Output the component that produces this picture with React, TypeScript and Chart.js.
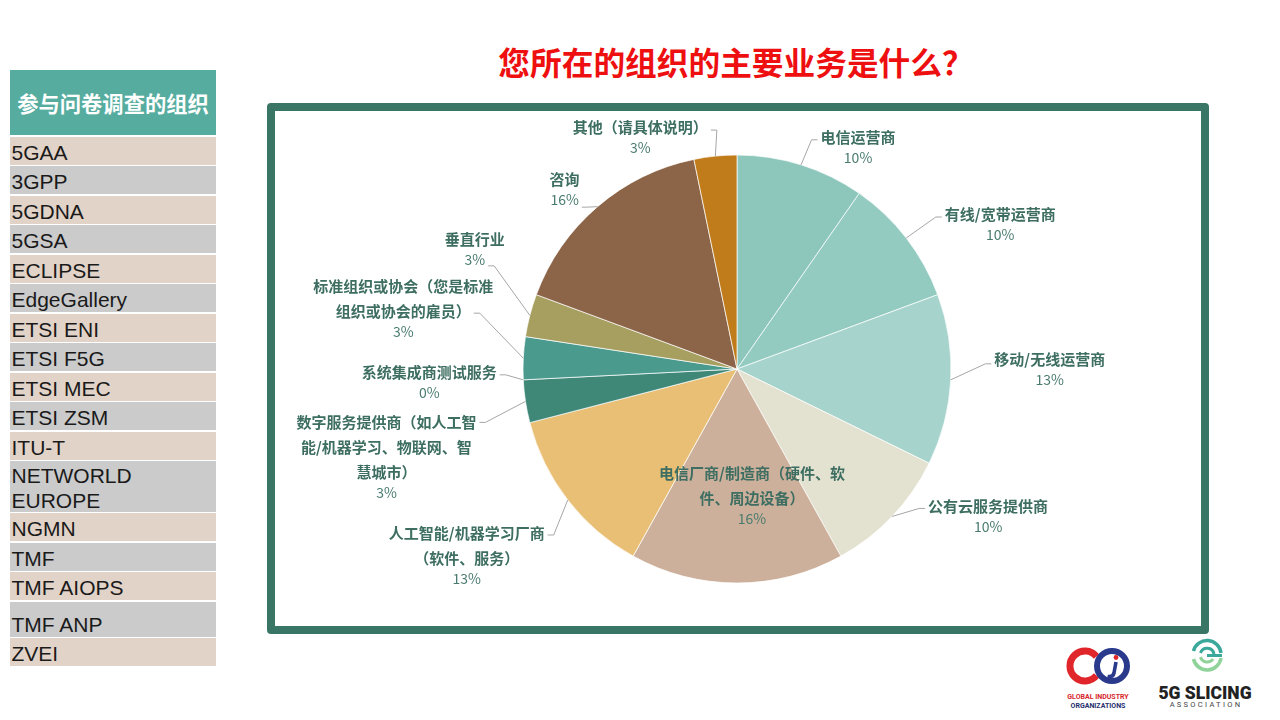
import React, { useEffect, useRef } from 'react';
import { Chart, registerables } from 'chart.js';

Chart.register(...registerables);

// ---------- data ----------
const chartTitle = '您所在的组织的主要业务是什么？';
const tableHeader = '参与问卷调查的组织';

const categories = [
  '电信运营商',
  '有线/宽带运营商',
  '移动/无线运营商',
  '公有云服务提供商',
  '电信厂商/制造商（硬件、软件、周边设备）',
  '人工智能/机器学习厂商（软件、服务）',
  '数字服务提供商（如人工智能/机器学习、物联网、智慧城市）',
  '系统集成商测试服务',
  '标准组织或协会（您是标准组织或协会的雇员）',
  '垂直行业',
  '咨询',
  '其他（请具体说明）',
];

const labelLines = [
  ['电信运营商'],
  ['有线/宽带运营商'],
  ['移动/无线运营商'],
  ['公有云服务提供商'],
  ['电信厂商/制造商（硬件、软', '件、周边设备）'],
  ['人工智能/机器学习厂商', '（软件、服务）'],
  ['数字服务提供商（如人工智', '能/机器学习、物联网、智', '慧城市）'],
  ['系统集成商测试服务'],
  ['标准组织或协会（您是标准', '组织或协会的雇员）'],
  ['垂直行业'],
  ['咨询'],
  ['其他（请具体说明）'],
];

const responses = [3, 3, 4, 3, 5, 4, 1, 0, 1, 1, 5, 1];

const sliceColors = [
  '#8dc7bc',
  '#93cbc1',
  '#a6d3cc',
  '#e3e2d0',
  '#ccb09b',
  '#e9bf76',
  '#3f8878',
  '#4a9a8f',
  '#4a9a8e',
  '#a69f60',
  '#8c6548',
  '#c07b1a',
];

const organizations = [
  '5GAA', '3GPP', '5GDNA', '5GSA', 'ECLIPSE', 'EdgeGallery', 'ETSI ENI', 'ETSI F5G',
  'ETSI MEC', 'ETSI ZSM', 'ITU-T', 'NETWORLD\nEUROPE', 'NGMN', 'TMF', 'TMF AIOPS', 'TMF ANP', 'ZVEI',
];

// ---------- label layout (offsets from each slice's outer mid point) ----------
// line: index of the text line the leader attaches to (lines.length = percentage line)
const labelPlacement = [
  { dx: 57, dy: -28, side: 'left', line: 0, ay: 3 },
  { dx: 94, dy: -24, side: 'left', line: 0, ay: 3 },
  { dx: 99, dy: -21, side: 'left', line: 0, ay: 5 },
  { dx: 96, dy: -10, side: 'left', line: 0, ay: 2 },
  { dx: 15, dy: -110, side: 'none', line: 0, ay: 0 },
  { dx: -101, dy: 33, side: 'right', line: 0, ay: 2 },
  { dx: -139, dy: 21, side: 'right', line: 0, ay: 0 },
  { dx: -94, dy: -8, side: 'right', line: 0, ay: 3 },
  { dx: -120, dy: -72, side: 'right', line: 1, ay: 2 },
  { dx: -55, dy: -76, side: 'right', line: 1, ay: 6 },
  { dx: -33, dy: -27, side: 'right', line: 1, ay: 7 },
  { dx: -75, dy: -29, side: 'right', line: 0, ay: 3 },
];

const NAME_FONT = 'bold 15px "Noto Sans CJK SC", sans-serif';
const PCT_FONT = '14px "Noto Sans CJK SC", sans-serif';
const LINE_GAP = 25;
const PCT_GAP = 20.5;

const outLabels = {
  id: 'outLabels',
  afterDatasetsDraw(chart: any) {
    const ctx = chart.ctx as CanvasRenderingContext2D;
    const meta = chart.getDatasetMeta(0);
    const total = responses.reduce((a, b) => a + b, 0);
    meta.data.forEach((arc: any, i: number) => {
      const p = arc.getProps(['x', 'y', 'startAngle', 'endAngle', 'outerRadius'], true);
      const mid = (p.startAngle + p.endAngle) / 2;
      const ex = p.x + Math.cos(mid) * p.outerRadius;
      const ey = p.y + Math.sin(mid) * p.outerRadius;
      const lay = labelPlacement[i];
      const lines = labelLines[i];
      const cx = ex + lay.dx;
      const cy = ey + lay.dy;
      const pct = Math.round((responses[i] / total) * 100) + '%';
      const pctY = cy + (lines.length - 1) * LINE_GAP + PCT_GAP;

      ctx.save();
      ctx.textAlign = 'center';
      ctx.textBaseline = 'middle';
      ctx.fillStyle = '#3d6e61';
      ctx.font = NAME_FONT;
      lines.forEach((ln, k) => ctx.fillText(ln, cx, cy + k * LINE_GAP));
      ctx.font = PCT_FONT;
      ctx.fillStyle = '#4a7b6f';
      ctx.fillText(pct, cx, pctY);

      if (lay.side !== 'none') {
        let w: number;
        let ly: number;
        if (lay.line >= lines.length) {
          ctx.font = PCT_FONT;
          w = ctx.measureText(pct).width;
          ly = pctY;
        } else {
          ctx.font = NAME_FONT;
          w = ctx.measureText(lines[lay.line]).width;
          ly = cy + lay.line * LINE_GAP;
        }
        const ay = ly + lay.ay;
        const dir = lay.side === 'left' ? -1 : 1;
        const attachX = cx + dir * (w / 2 + 3);
        const elbowX = attachX + dir * 6;
        ctx.beginPath();
        ctx.strokeStyle = '#a6a6a6';
        ctx.lineWidth = 1;
        ctx.moveTo(ex, ey);
        ctx.lineTo(elbowX, ay);
        ctx.lineTo(attachX, ay);
        ctx.stroke();
      }
      ctx.restore();
    });
  },
};

function PieChart() {
  const ref = useRef<HTMLCanvasElement | null>(null);
  useEffect(() => {
    if (!ref.current) return;
    const chart = new Chart(ref.current, {
      type: 'pie',
      data: {
        labels: categories,
        datasets: [
          {
            data: responses,
            backgroundColor: sliceColors,
            borderColor: 'rgba(255,255,255,0.7)',
            borderWidth: 1,
            radius: 214,
          } as any,
        ],
      },
      options: {
        responsive: false,
        animation: false,
        layout: { padding: 0 },
        plugins: {
          legend: { display: false },
          tooltip: { enabled: false },
          title: { display: false },
        },
      },
      plugins: [outLabels],
    });
    return () => chart.destroy();
  }, []);
  return (
    <canvas
      ref={ref}
      width={942}
      height={532}
      style={{ position: 'absolute', left: 266, top: 103, width: 942, height: 532 }}
    />
  );
}

function Logos() {
  return (
    <svg
      width={230}
      height={84}
      style={{ position: 'absolute', left: 1050, top: 636 }}
      viewBox="0 0 230 84"
    >
      {/* Global Industry Organizations */}
      <path d="M46.5 20.4 A15 15 0 1 0 46.5 39.6" fill="none" stroke="#e0262b" strokeWidth={7} />
      <circle cx={62} cy={30} r={15} fill="none" stroke="#29398c" strokeWidth={6} />
      <circle cx={66} cy={21.5} r={2.4} fill="#e0262b" />
      <path d="M66 26 L64 37 Q63 41.5 57.5 40.5" fill="none" stroke="#29398c" strokeWidth={3.6} />
      <text x={48} y={62.5} textAnchor="middle" fontSize={7} fontWeight={700} fill="#d7262b" fontFamily="Roboto, sans-serif">
        GLOBAL INDUSTRY
      </text>
      <text x={48} y={71.5} textAnchor="middle" fontSize={7} fontWeight={700} fill="#1f2f6e" fontFamily="Roboto, sans-serif">
        ORGANIZATIONS
      </text>
      {/* 5G Slicing Association */}
      <path d="M143.5 15 A14 14 0 0 1 171 17" fill="none" stroke="#3aa89b" strokeWidth={3.5} />
      <path d="M143.5 23 A14 14 0 0 0 171 22" fill="none" stroke="#8fd39b" strokeWidth={3.5} />
      <path d="M150.5 17 A7 7 0 0 1 164 18" fill="none" stroke="#3aa89b" strokeWidth={3} />
      <path d="M150.5 21 A7 7 0 0 0 163 23" fill="none" stroke="#8fd39b" strokeWidth={3} />
      <line x1={157} y1={19.5} x2={172} y2={19.5} stroke="#3aa89b" strokeWidth={3} />
      <text x={155} y={62.5} textAnchor="middle" fontSize={17.5} fontWeight={900} fill="#222" fontFamily="Roboto, sans-serif">
        5G SLICING
      </text>
      <text x={156} y={71} textAnchor="middle" fontSize={7.5} letterSpacing={2.3} fill="#444" fontFamily="Roboto, sans-serif">
        ASSOCIATION
      </text>
    </svg>
  );
}

export default function App() {
  return (
    <div
      style={{
        position: 'absolute',
        left: 0,
        top: 0,
        width: 1280,
        height: 720,
        background: '#ffffff',
        overflow: 'hidden',
        fontFamily: '"Liberation Sans", Arial, sans-serif',
      }}
    >
      {/* Title */}
      <div
        style={{
          position: 'absolute',
          left: 436,
          width: 600,
          top: 45,
          textAlign: 'center',
          fontFamily: '"Noto Sans CJK SC", sans-serif',
          fontWeight: 700,
          fontSize: 31.7,
          lineHeight: '32px',
          color: '#ee1010',
          whiteSpace: 'nowrap',
        }}
      >
        {chartTitle}
      </div>

      {/* Left table */}
      <div
        style={{
          position: 'absolute',
          left: 10,
          top: 70,
          width: 206,
          display: 'flex',
          flexDirection: 'column',
          gap: 1.5,
        }}
      >
        <div
          style={{
            height: 65.2,
            background: '#56ad9f',
            color: '#ffffff',
            fontFamily: '"Noto Sans CJK SC", sans-serif',
            fontWeight: 700,
            fontSize: 21.3,
            display: 'flex',
            alignItems: 'center',
            justifyContent: 'center',
          }}
        >
          {tableHeader}
        </div>
        {organizations.map((org, i) => {
          const multi = org.includes('\n');
          const h = multi ? 50.5 : org === 'TMF ANP' ? 35 : 28;
          return (
            <div
              key={org}
              style={{
                height: h,
                background: i % 2 === 0 ? '#e2d3c8' : '#cbcbcb',
                color: '#1a1a1a',
                fontSize: 21,
                lineHeight: multi ? '25px' : 'normal',
                whiteSpace: 'pre-line',
                display: 'flex',
                alignItems: 'flex-end',
                paddingLeft: 1.5,
                boxSizing: 'border-box',
                overflow: 'hidden',
              }}
            >
              <span style={{ display: 'block', marginBottom: multi ? -1 : 0 }}>{org}</span>
            </div>
          );
        })}
      </div>

      {/* Frame */}
      <div
        style={{
          position: 'absolute',
          left: 267,
          top: 103,
          width: 942,
          height: 531,
          border: '8px solid #3a7666',
          borderRadius: 4,
          boxSizing: 'border-box',
        }}
      />

      <PieChart />
      <Logos />
    </div>
  );
}
